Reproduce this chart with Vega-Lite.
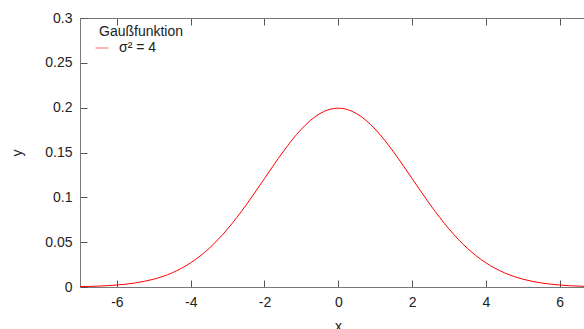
{
  "$schema": "https://vega.github.io/schema/vega-lite/v6.json",
  "width": 504,
  "height": 269,
  "autosize": "none",
  "padding": {"left": 80, "top": 18, "right": 0, "bottom": 42},
  "background": "white",
  "config": {
    "view": {"stroke": null},
    "font": "Liberation Sans",
    "axis": {
      "grid": false,
      "domainColor": "#777",
      "tickColor": "#555",
      "domainWidth": 1,
      "tickWidth": 1,
      "labelFont": "Liberation Sans",
      "labelFontSize": 14,
      "labelColor": "#222",
      "titleFont": "Liberation Sans",
      "titleFontSize": 14,
      "titleFontWeight": "normal",
      "titleColor": "#222"
    }
  },
  "data": {
    "values": [
      {"x": -7, "y": 0.00044, "s": "σ² = 4"},
      {"x": -6.75, "y": 0.00067, "s": "σ² = 4"},
      {"x": -6.5, "y": 0.00101, "s": "σ² = 4"},
      {"x": -6.25, "y": 0.00151, "s": "σ² = 4"},
      {"x": -6, "y": 0.00222, "s": "σ² = 4"},
      {"x": -5.75, "y": 0.0032, "s": "σ² = 4"},
      {"x": -5.5, "y": 0.00455, "s": "σ² = 4"},
      {"x": -5.25, "y": 0.00636, "s": "σ² = 4"},
      {"x": -5, "y": 0.00876, "s": "σ² = 4"},
      {"x": -4.75, "y": 0.01188, "s": "σ² = 4"},
      {"x": -4.5, "y": 0.01587, "s": "σ² = 4"},
      {"x": -4.25, "y": 0.02086, "s": "σ² = 4"},
      {"x": -4, "y": 0.027, "s": "σ² = 4"},
      {"x": -3.75, "y": 0.03439, "s": "σ² = 4"},
      {"x": -3.5, "y": 0.04314, "s": "σ² = 4"},
      {"x": -3.25, "y": 0.05327, "s": "σ² = 4"},
      {"x": -3, "y": 0.06476, "s": "σ² = 4"},
      {"x": -2.75, "y": 0.07751, "s": "σ² = 4"},
      {"x": -2.5, "y": 0.09132, "s": "σ² = 4"},
      {"x": -2.25, "y": 0.10594, "s": "σ² = 4"},
      {"x": -2, "y": 0.12099, "s": "σ² = 4"},
      {"x": -1.75, "y": 0.13603, "s": "σ² = 4"},
      {"x": -1.5, "y": 0.15057, "s": "σ² = 4"},
      {"x": -1.25, "y": 0.16408, "s": "σ² = 4"},
      {"x": -1, "y": 0.17603, "s": "σ² = 4"},
      {"x": -0.75, "y": 0.18593, "s": "σ² = 4"},
      {"x": -0.5, "y": 0.19333, "s": "σ² = 4"},
      {"x": -0.25, "y": 0.19792, "s": "σ² = 4"},
      {"x": 0, "y": 0.19947, "s": "σ² = 4"},
      {"x": 0.25, "y": 0.19792, "s": "σ² = 4"},
      {"x": 0.5, "y": 0.19333, "s": "σ² = 4"},
      {"x": 0.75, "y": 0.18593, "s": "σ² = 4"},
      {"x": 1, "y": 0.17603, "s": "σ² = 4"},
      {"x": 1.25, "y": 0.16408, "s": "σ² = 4"},
      {"x": 1.5, "y": 0.15057, "s": "σ² = 4"},
      {"x": 1.75, "y": 0.13603, "s": "σ² = 4"},
      {"x": 2, "y": 0.12099, "s": "σ² = 4"},
      {"x": 2.25, "y": 0.10594, "s": "σ² = 4"},
      {"x": 2.5, "y": 0.09132, "s": "σ² = 4"},
      {"x": 2.75, "y": 0.07751, "s": "σ² = 4"},
      {"x": 3, "y": 0.06476, "s": "σ² = 4"},
      {"x": 3.25, "y": 0.05327, "s": "σ² = 4"},
      {"x": 3.5, "y": 0.04314, "s": "σ² = 4"},
      {"x": 3.75, "y": 0.03439, "s": "σ² = 4"},
      {"x": 4, "y": 0.027, "s": "σ² = 4"},
      {"x": 4.25, "y": 0.02086, "s": "σ² = 4"},
      {"x": 4.5, "y": 0.01587, "s": "σ² = 4"},
      {"x": 4.75, "y": 0.01188, "s": "σ² = 4"},
      {"x": 5, "y": 0.00876, "s": "σ² = 4"},
      {"x": 5.25, "y": 0.00636, "s": "σ² = 4"},
      {"x": 5.5, "y": 0.00455, "s": "σ² = 4"},
      {"x": 5.75, "y": 0.0032, "s": "σ² = 4"},
      {"x": 6, "y": 0.00222, "s": "σ² = 4"},
      {"x": 6.25, "y": 0.00151, "s": "σ² = 4"},
      {"x": 6.5, "y": 0.00101, "s": "σ² = 4"},
      {"x": 6.75, "y": 0.00067, "s": "σ² = 4"},
      {"x": 7, "y": 0.00044, "s": "σ² = 4"}
    ]
  },
  "layer": [
    {
      "mark": {"type": "line", "clip": true, "strokeWidth": 1, "interpolate": "monotone"},
      "encoding": {
        "x": {
          "field": "x", "type": "quantitative",
          "scale": {"domain": [-7, 6.66], "nice": false, "zero": false},
          "axis": {
            "orient": "bottom", "title": "x",
            "values": [-6, -4, -2, 0, 2, 4, 6],
            "labelExpr": "'' + datum.value",
            "tickSize": -7, "labelPadding": 15,
            "titlePadding": 10, "titleX": 258
          }
        },
        "y": {
          "field": "y", "type": "quantitative",
          "scale": {"domain": [0, 0.3], "nice": false, "zero": true},
          "axis": {
            "title": "y",
            "values": [0, 0.05, 0.1, 0.15, 0.2, 0.25, 0.3],
            "labelExpr": "'' + datum.value",
            "tickSize": -7, "labelPadding": 15,
            "titlePadding": 20
          }
        },
        "color": {
          "field": "s", "type": "nominal",
          "scale": {"range": ["#ff0000"]},
          "legend": {
            "orient": "none", "legendX": 19, "legendY": 7,
            "title": "Gaußfunktion",
            "titleFont": "Liberation Sans", "titleFontSize": 14, "titleFontWeight": "normal", "titleColor": "#222",
            "labelFont": "Liberation Sans", "labelFontSize": 14, "labelColor": "#222",
            "symbolType": "stroke", "symbolSize": 169, "symbolStrokeWidth": 1, "symbolOpacity": 0.6,
            "symbolOffset": -4,
            "labelOffset": 10, "titlePadding": 2
          }
        }
      }
    },
    {
      "mark": {"type": "line", "opacity": 0, "clip": true},
      "encoding": {
        "x": {
          "field": "x", "type": "quantitative",
          "axis": {
            "orient": "top", "title": null, "labels": false,
            "values": [-6, -4, -2, 0, 2, 4, 6],
            "tickSize": -7
          }
        },
        "y": {"field": "y", "type": "quantitative"}
      }
    }
  ],
  "resolve": {"axis": {"x": "independent"}}
}
